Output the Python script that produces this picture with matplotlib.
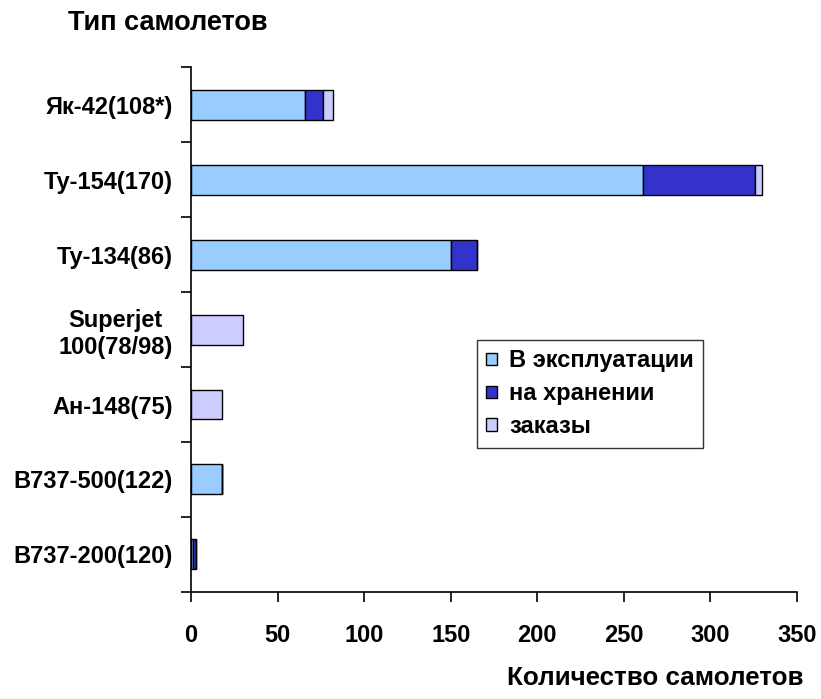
import matplotlib.pyplot as plt
import numpy as np

plt.rcParams['font.family'] = ['Liberation Sans', 'DejaVu Sans']
plt.rcParams['font.weight'] = 'bold'

# данные
types = ['Як-42(108*)', 'Ту-154(170)', 'Ту-134(86)', 'Superjet\n100(78/98)',
         'Ан-148(75)', 'B737-500(122)', 'B737-200(120)']
v_expl = [66, 261, 150, 0, 0, 18, 1]
v_hran = [10, 65, 15, 0, 0, 0, 2]
v_zak = [6, 4, 0, 30, 18, 0, 0]

names = ['В эксплуатации', 'на хранении', 'заказы']
colors = ['#99CCFF', '#3333CC', '#CCCCFF']

fs = 17

fig = plt.figure(figsize=(8.21, 6.99), dpi=100)
ax = fig.add_axes([0.2326, 0.1531, 0.7382, 0.751])

y = np.arange(len(types))
left = np.zeros(len(types))
for vals, nm, c in zip([v_expl, v_hran, v_zak], names, colors):
    vals = np.array(vals, dtype=float)
    ax.barh(y, vals, left=left, height=0.4, color=c, edgecolor='black',
            linewidth=1, label=nm)
    left += vals

ax.set_ylim(len(types) - 0.5, -0.5)
ax.set_xlim(0, 350)
ax.set_xticks(np.arange(0, 351, 50))
ax.set_yticks(np.arange(-0.5, len(types), 1))
ax.set_yticklabels([])
ax.set_yticks(y, minor=True)
ax.set_yticklabels(types, minor=True, fontsize=fs, fontweight='bold',
                   ha='right', multialignment='center')
ax.tick_params(axis='y', which='minor', length=0, pad=13)
ax.tick_params(axis='y', which='major', length=7, width=1.2, direction='out')
ax.tick_params(axis='x', length=7, width=1.2, direction='out', pad=16, labelsize=fs)
for lab in ax.get_xticklabels():
    lab.set_fontweight('bold')

ax.spines['top'].set_visible(False)
ax.spines['right'].set_visible(False)
ax.spines['left'].set_linewidth(1.2)
ax.spines['bottom'].set_linewidth(1.2)

fig.text(68 / 821, 1 - 23 / 699, 'Тип самолетов', fontsize=19.5,
         fontweight='bold', va='center')
fig.text(803 / 821, 1 - 678 / 699, 'Количество самолетов', fontsize=18.7,
         fontweight='bold', ha='right', va='center')

leg = ax.legend(loc='upper left', bbox_to_anchor=(0.472, 0.48), borderaxespad=0,
                frameon=True, fancybox=False, handlelength=0.46,
                handleheight=0.46, handletextpad=0.5, labelspacing=0.42,
                borderpad=0.4, prop={'weight': 'bold', 'size': fs})
leg.get_frame().set_edgecolor('black')
leg.get_frame().set_linewidth(1)

fig.savefig('out.png', dpi=100)
